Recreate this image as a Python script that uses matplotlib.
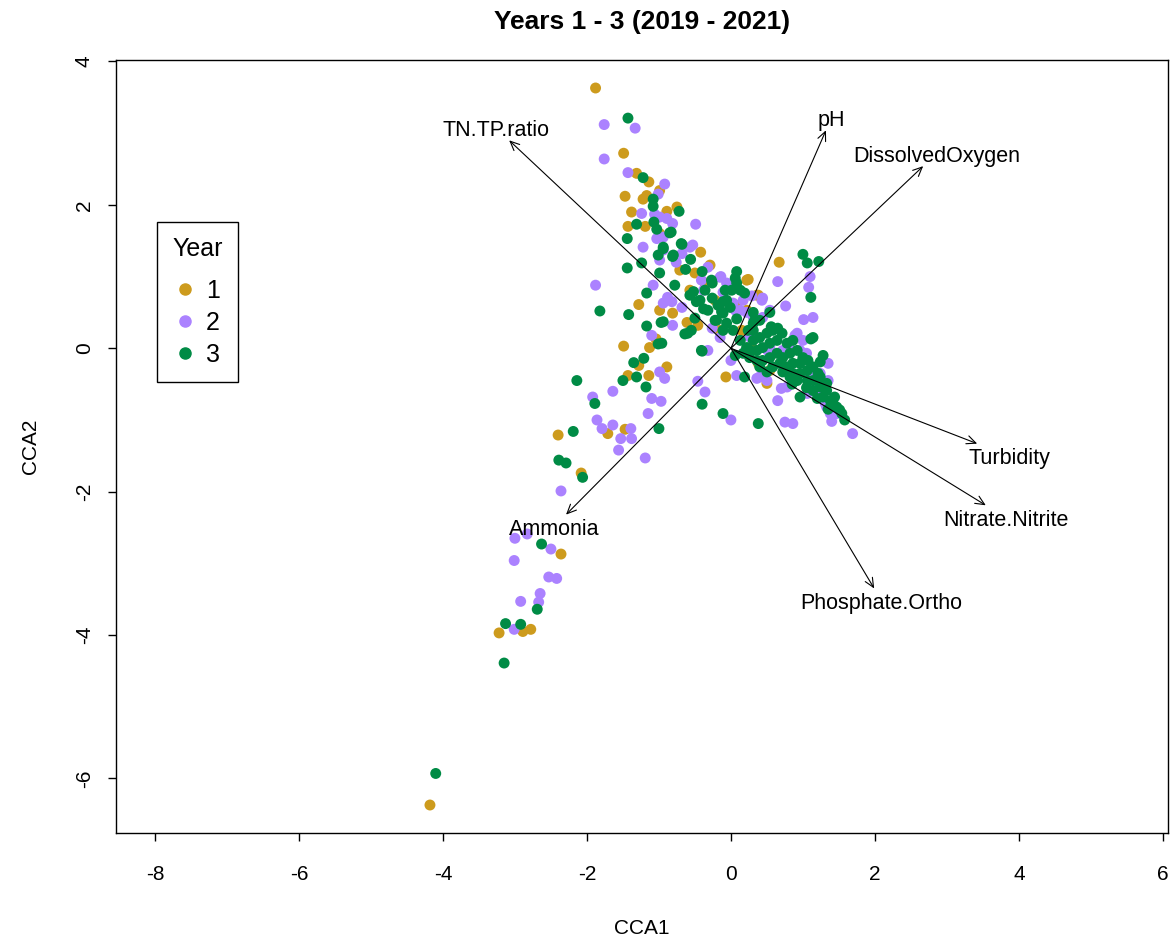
import numpy as np
import matplotlib
matplotlib.use('Agg')
import matplotlib.pyplot as plt
from matplotlib.lines import Line2D

plt.rcParams['font.family'] = ['Liberation Sans', 'DejaVu Sans']
plt.rcParams['axes.unicode_minus'] = False

# site scores (CCA1, CCA2) per year
year1 = [(-1.88, 3.63), (-1.49, 2.72), (-1.31, 2.44), (-1.14, 2.32), (-0.99, 2.20), (-1.47, 2.12),
         (-1.22, 2.08), (-1.17, 2.13), (-0.75, 1.97), (-0.89, 1.91), (-1.38, 1.90), (-1.43, 1.70),
         (-1.19, 1.70), (-0.99, 1.60), (-0.42, 1.34), (-0.50, 1.05), (0.24, 0.96), (0.67, 1.20),
         (0.38, 0.74), (-1.28, 0.61), (-0.99, 0.53), (-1.49, 0.03), (-0.81, 0.49), (-0.61, 0.36),
         (-0.46, 0.32), (-1.04, 0.13), (-1.13, 0.01), (-1.28, -0.24), (-1.43, -0.38), (-0.89, -0.26),
         (-1.14, -0.38), (-1.71, -1.19), (-1.47, -1.13), (-2.40, -1.21), (-2.08, -1.74),
         (-2.36, -2.87), (-2.89, -3.95), (-2.78, -3.92), (-3.22, -3.97), (-4.18, -6.37), (-0.07, -0.40),
         (0.50, -0.49), (-0.22, 0.67), (0.06, 0.60), (0.15, 0.25), (0.29, 0.00), (0.54, -0.31),
         (-0.15, 0.25), (-0.57, 0.81), (-0.71, 1.09), (-0.29, 1.16), (-0.36, 0.91),
         (0.22, 0.95), (0.36, 0.74), (0.22, 0.53), (0.38, -0.21)]

year2 = [(-1.76, 3.12), (-1.33, 3.07), (-1.76, 2.64), (-1.43, 2.45), (-0.92, 2.29), (-1.01, 2.15),
         (-1.24, 1.88), (-1.06, 1.87), (-0.99, 1.83), (-0.89, 1.81), (-0.81, 1.74), (-0.49, 1.73),
         (-1.03, 1.53), (-1.22, 1.41), (-0.68, 1.32), (-0.53, 1.44), (-0.99, 1.23), (-0.32, 1.13),
         (-0.14, 1.00), (-1.88, 0.88), (-1.08, 0.88), (-0.94, 0.63), (-0.81, 0.32), (-0.68, 0.57),
         (-0.26, 0.28), (-1.10, 0.18), (-0.88, 0.71), (-0.99, -0.33), (-0.92, -0.42), (-1.64, -0.60),
         (-1.92, -0.68), (-1.10, -0.70), (-0.97, -0.74), (-1.15, -0.91), (-1.86, -1.00), (-1.79, -1.12),
         (-1.64, -1.07), (-1.53, -1.26), (-1.39, -1.12), (-1.38, -1.26), (-1.56, -1.42), (-1.19, -1.53),
         (-0.46, -0.46), (-0.36, -0.61), (0.00, -1.00), (0.08, -0.38), (0.36, -0.42), (-0.32, -0.03),
         (0.00, -0.17), (0.65, 0.93), (1.10, 1.00), (1.08, 0.85), (0.76, 0.59), (1.01, 0.40),
         (1.14, 0.43), (0.44, 0.70), (0.29, 0.73), (1.35, -0.45), (0.65, -0.73), (0.75, -1.03),
         (0.86, -1.05), (1.69, -1.19), (1.40, -1.02), (-2.36, -1.99), (-3.00, -2.65), (-2.83, -2.59),
         (-2.50, -2.80), (-3.01, -2.96), (-2.53, -3.19), (-2.42, -3.21), (-2.65, -3.42), (-2.92, -3.53),
         (-2.67, -3.54), (-3.01, -3.92), (0.43, -0.38), (0.31, 0.43), (0.13, 0.53), (0.22, 0.50),
         (0.44, 0.43), (0.92, 0.21), (1.00, 0.11), (0.85, -0.03), (0.72, -0.03), (0.51, -0.03),
         (1.10, -0.40), (1.24, -0.35), (1.17, -0.54), (1.24, -0.68), (1.38, -0.91), (1.47, -0.91),
         (1.33, -0.82), (1.06, -0.63), (0.78, -0.54), (0.50, -0.45), (-0.06, 0.91), (-0.15, 0.99),
         (-0.11, 0.78), (0.03, 0.63), (0.17, 0.67), (-0.15, 0.15), (0.96, -0.03),
         (-0.94, 1.55), (-0.57, 1.41), (-0.94, 1.37), (-0.76, 1.20), (-0.41, 0.95), (-0.38, 0.81),
         (0.43, 0.67), (-0.82, 0.65), (0.06, 0.53), (0.54, 0.53), (0.26, 0.16), (0.54, 0.02),
         (0.89, 0.18), (1.05, -0.07), (1.35, -0.21), (0.40, -0.40), (0.70, -0.56), (1.31, -0.77)]

year3 = [(-1.43, 3.21), (-1.22, 2.38), (-1.08, 2.08), (-1.08, 1.98), (-0.72, 1.91), (-1.31, 1.73),
         (-1.07, 1.76), (-1.03, 1.66), (-0.83, 1.62), (-1.44, 1.53), (-0.94, 1.41), (-0.68, 1.45),
         (-1.01, 1.30), (-0.81, 1.28), (-0.56, 1.24), (-1.44, 1.12), (-1.24, 1.19), (-0.63, 1.10),
         (-0.40, 1.07), (0.08, 1.07), (-0.99, 1.05), (1.00, 1.31), (1.06, 1.19), (1.22, 1.21),
         (1.11, 0.71), (0.06, 0.98), (-1.82, 0.52), (-1.17, 0.77), (-1.42, 0.47), (-1.17, 0.31),
         (-1.01, 0.06), (-0.97, 0.36), (-0.78, 0.88), (-0.60, 0.21), (-0.40, -0.04), (0.54, 0.50),
         (-1.21, -0.14), (-1.35, -0.20), (-1.31, -0.40), (-1.50, -0.45), (-1.18, -0.54), (-2.14, -0.45),
         (-1.89, -0.77), (-2.19, -1.16), (-1.00, -1.12), (-0.40, -0.78), (-0.11, -0.91), (0.19, -0.40),
         (0.38, -1.05), (0.06, -0.10), (1.11, 0.13), (1.14, 0.15), (1.28, -0.10), (1.21, -0.35),
         (0.96, -0.68), (1.58, -1.00), (1.54, -0.91), (-2.39, -1.56), (-2.29, -1.60), (-2.06, -1.80),
         (-2.63, -2.73), (-2.69, -3.64), (-3.13, -3.84), (-2.92, -3.85), (-3.15, -4.39), (-4.10, -5.93),
         (0.31, 0.11), (0.40, 0.15), (0.50, 0.21), (0.58, 0.25), (0.65, 0.28), (0.71, 0.21),
         (0.64, 0.11), (0.54, 0.07), (0.44, 0.01), (0.36, -0.03), (0.26, -0.03), (0.78, 0.07),
         (0.86, 0.11), (0.92, -0.03), (0.82, -0.07), (0.72, -0.13), (0.64, -0.07), (0.54, -0.13),
         (0.44, -0.17), (1.00, -0.13), (1.07, -0.17), (0.96, -0.21), (0.86, -0.21), (0.78, -0.26),
         (0.68, -0.21), (0.58, -0.26), (1.14, -0.26), (1.06, -0.31), (0.96, -0.35), (0.86, -0.35),
         (1.06, -0.45), (1.14, -0.45), (1.24, -0.40), (1.24, -0.54), (1.14, -0.59), (1.33, -0.59),
         (1.28, -0.68), (1.38, -0.73), (1.42, -0.77), (1.47, -0.82), (1.51, -0.86), (1.44, -0.68),
         (1.33, -0.49), (0.92, -0.45), (0.82, -0.40), (0.72, -0.33), (0.50, -0.33), (0.40, -0.26),
         (0.36, -0.17), (0.26, -0.13), (0.17, -0.07), (0.22, 0.01), (0.13, 0.11), (0.03, 0.25),
         (-0.06, 0.35), (-0.11, 0.49), (-0.01, 0.57), (0.13, 0.81), (0.19, 0.77), (0.08, 0.91),
         (-0.06, 0.67), (0.31, 0.50), (0.40, 0.39), (0.31, 0.35), (0.24, 0.25), (-0.36, 0.81),
         (-0.26, 0.70), (-0.18, 0.60), (-0.32, 0.53), (-0.43, 0.67), (-0.57, 0.74), (-0.50, 0.42),
         (-0.22, 0.39), (-0.08, 0.81), (-0.26, 0.91),
         (-0.85, 1.61), (-0.69, 1.46), (-0.94, 1.39), (-0.80, 1.30), (-0.27, 0.95), (-0.52, 0.79),
         (0.01, 0.81), (-0.48, 0.65), (-0.38, 0.55), (-0.11, 0.65), (0.08, 0.41), (-0.13, 0.51),
         (-0.20, 0.39), (-0.94, 0.37), (-0.64, 0.20), (-0.55, 0.25), (-0.11, 0.25), (0.33, 0.39),
         (0.31, 0.25), (0.56, 0.30), (-0.41, -0.03), (-0.96, 0.07), (0.22, 0.00),
         (1.24, -0.19), (1.05, -0.55), (0.85, -0.50), (1.20, -0.70), (1.35, -0.85)]

years = ['1', '2', '3']
year_colors = ['#CD9B1D', '#AB82FF', '#008B45']

# environmental biplot arrows
env_names = ['TN.TP.ratio', 'pH', 'DissolvedOxygen', 'Turbidity',
             'Nitrate.Nitrite', 'Phosphate.Ortho', 'Ammonia']
env_cca1 = [-3.08, 1.32, 2.67, 3.42, 3.54, 1.99, -2.29]
env_cca2 = [2.90, 3.04, 2.54, -1.33, -2.19, -3.35, -2.32]

fig = plt.figure(figsize=(11.71, 9.41), dpi=100)
ax = fig.add_axes([0.0991, 0.1148, 0.8983, 0.8214])

for pts, col in zip([year1, year2, year3], year_colors):
    pts = np.array(pts)
    ax.scatter(pts[:, 0], pts[:, 1], s=62, color=col, edgecolors='none', zorder=2)

ax.set_xlim(-8.54, 6.07)
ax.set_ylim(-6.76, 4.02)
ax.set_xticks(np.arange(-8, 7, 2))
ax.set_yticks(np.arange(-6, 5, 2))
ax.tick_params(direction='out', length=6, width=1, labelsize=15)
ax.tick_params(axis='x', pad=17)
ax.tick_params(axis='y', pad=10)
for lbl in ax.get_yticklabels():
    lbl.set_rotation(90)
    lbl.set_va('center')
for sp in ax.spines.values():
    sp.set_linewidth(1)

ax.set_xlabel('CCA1', fontsize=15, labelpad=25)
ax.set_ylabel('CCA2', fontsize=15, labelpad=25)
ax.set_title('Years 1 - 3 (2019 - 2021)', fontsize=19, fontweight='bold', pad=22)

# label placement in the vegan style: text box just beyond the arrow tip
lab_size = 15.5
fig.canvas.draw()
rend = fig.canvas.get_renderer()
p0 = ax.transData.transform((0, 0))
h = 0.77 * lab_size * fig.dpi / 72
for name, ex, ey in zip(env_names, env_cca1, env_cca2):
    ax.annotate('', xy=(ex, ey), xytext=(0, 0),
                arrowprops=dict(arrowstyle='->,head_length=0.55,head_width=0.25',
                                lw=0.8, color='black', shrinkA=0, shrinkB=0,
                                mutation_scale=12), zorder=3)
    t = ax.text(ex, ey, name, fontsize=lab_size, ha='center', va='center_baseline', zorder=4)
    w = t.get_window_extent(rend).width
    p1 = ax.transData.transform((ex, ey))
    u = (p1 - p0) / np.hypot(*(p1 - p0))
    hw, hh = w / 2 + h / 4, 0.75 * h
    dist = min(hw / max(abs(u[0]), 1e-6), hh / max(abs(u[1]), 1e-6))
    t.set_position(ax.transData.inverted().transform(p1 + u * dist))

handles = [Line2D([], [], marker='o', linestyle='none', color=c, markersize=8)
           for c in year_colors]
leg = ax.legend(handles, years, title='Year', loc='upper left',
                bbox_to_anchor=(0.039, 0.79), fontsize=18, title_fontsize=18,
                frameon=True, fancybox=False, edgecolor='black', framealpha=1,
                handlelength=0.8, handletextpad=0.45, labelspacing=0.32,
                borderpad=0.6, borderaxespad=0)
leg.get_frame().set_linewidth(1)
leg._legend_box.sep = 0.32 * 18 + 7

fig.savefig('out.png', dpi=100)
